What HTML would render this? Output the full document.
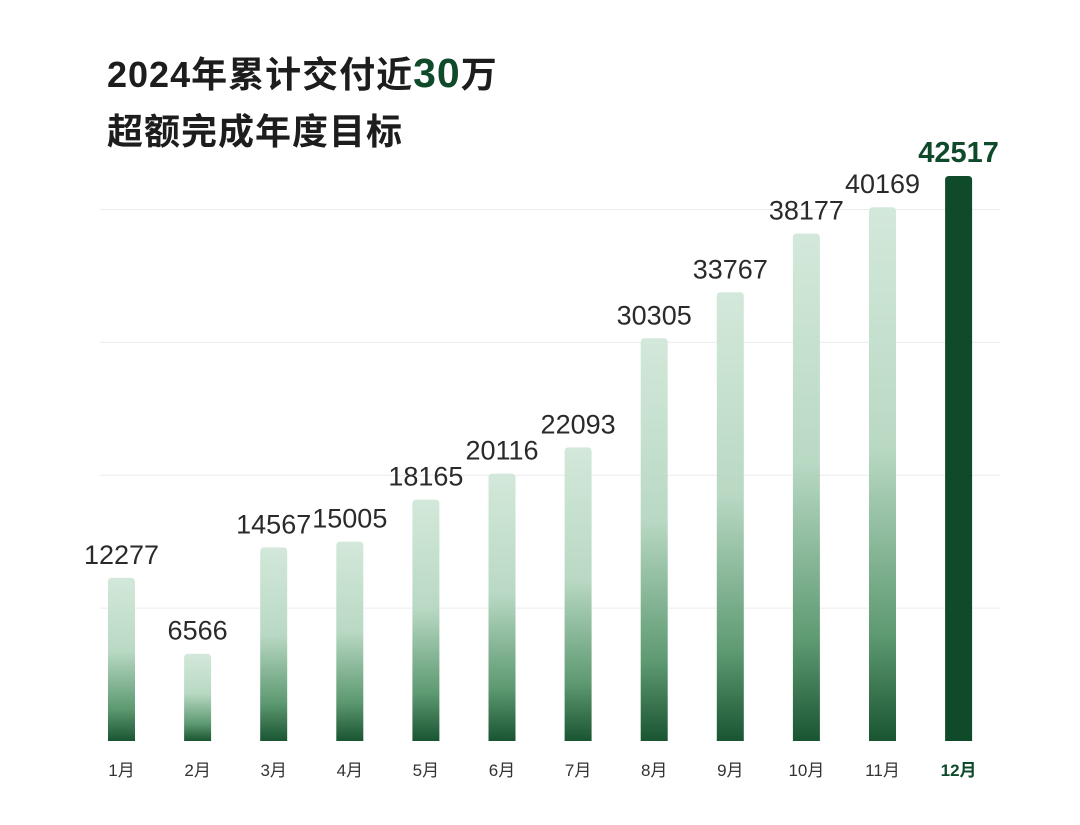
<!DOCTYPE html>
<html><head><meta charset="utf-8">
<style>
body{margin:0;background:#fff;width:1080px;height:825px;overflow:hidden;font-family:"Liberation Sans","Noto Sans CJK SC",sans-serif;}
.t{position:absolute;left:107px;font-weight:bold;color:#1d1d1d;font-size:36px;letter-spacing:1px;}
</style></head><body>
<div class="t" style="top:46px">2024年累计交付近<span style="color:#0f4a2a;font-size:41px">30</span>万</div>
<div class="t" style="top:103px">超额完成年度目标</div>
<svg id="c" width="1080" height="825" style="position:absolute;left:0;top:0">
<defs>
<linearGradient id="g" x1="0" y1="0" x2="0" y2="1">
<stop offset="0" stop-color="#d3e8da"/><stop offset="0.45" stop-color="#b9d9c4"/><stop offset="0.8" stop-color="#5e9a72"/><stop offset="1" stop-color="#1a5532"/>
</linearGradient>
</defs>
</svg>
<script>
const categories=["1月","2月","3月","4月","5月","6月","7月","8月","9月","10月","11月","12月"];
const values=[12277,6566,14567,15005,18165,20116,22093,30305,33767,38177,40169,42517];
const gridTicks=[10000,20000,30000,40000];
const svg=document.getElementById('c');
const NS='http://www.w3.org/2000/svg';
const base=741, k=565/42517;
const y=v=>base-v*k;
const x=i=>108+i*76.1;
const bw=27;
gridTicks.forEach(t=>{
 const l=document.createElementNS(NS,'line');
 l.setAttribute('x1',100);l.setAttribute('x2',1000);l.setAttribute('y1',y(t));l.setAttribute('y2',y(t));
 l.setAttribute('stroke','#ececec');l.setAttribute('stroke-width',1);
 
 
 svg.appendChild(l);
});
values.forEach((v,i)=>{
 const last=i===values.length-1;
 const r=document.createElementNS(NS,'path');
 const x0=x(i),y0=y(v),rad=4;
 r.setAttribute('d',`M${x0},${base} V${y0+rad} Q${x0},${y0} ${x0+rad},${y0} H${x0+bw-rad} Q${x0+bw},${y0} ${x0+bw},${y0+rad} V${base} Z`);
 r.setAttribute('fill',last?'#0f4a2a':'url(#g)');
 
 
 svg.appendChild(r);
 const t=document.createElementNS(NS,'text');
 t.setAttribute('x',x0+bw/2);t.setAttribute('y',y0-14);
 t.setAttribute('text-anchor','middle');
 t.setAttribute('font-size',last?29:27);
 t.setAttribute('font-weight',last?'bold':'normal');
 t.setAttribute('fill',last?'#0f4a2a':'#2a2a2a');
 t.textContent=v;
 
 
 svg.appendChild(t);
 const m=document.createElementNS(NS,'text');
 m.setAttribute('x',x0+bw/2);m.setAttribute('y',776);
 m.setAttribute('text-anchor','middle');
 m.setAttribute('font-size',17);
 m.setAttribute('font-weight',last?'bold':'normal');
 m.setAttribute('fill',last?'#0f4a2a':'#333');
 m.textContent=categories[i];
 
 
 svg.appendChild(m);
});
</script>
</body></html>
